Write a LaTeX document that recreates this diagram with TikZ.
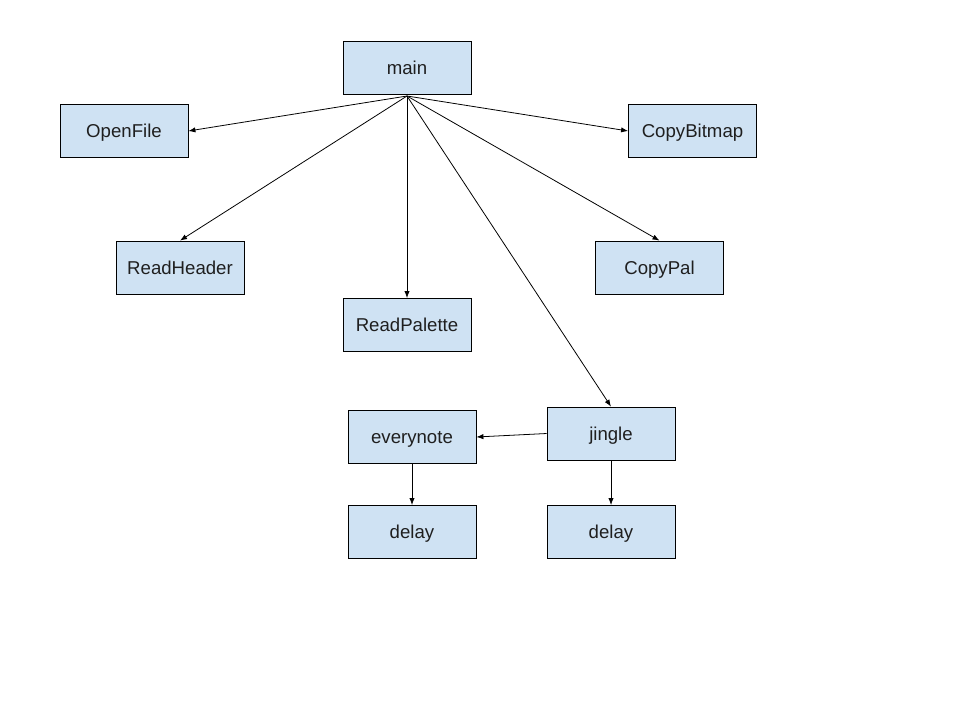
\documentclass[tikz,border=0pt]{standalone}
\usepackage{fontspec}
\setmainfont{Liberation Sans}
\usetikzlibrary{arrows.meta}
\definecolor{boxfill}{HTML}{CFE2F3}
\definecolor{txt}{HTML}{1F1F1F}
\begin{document}
\begin{tikzpicture}[x=0.02cm,y=-0.02cm,
  box/.style={draw=black,line width=0.45pt,fill=boxfill,minimum width=2.56cm,minimum height=1.06cm,inner sep=0pt,text=txt,text height=1.6ex,text depth=0.1ex,font=\fontsize{10.6}{12}\selectfont},
  conn/.style={draw=black,line width=0.45pt,-{Latex[length=4pt,width=3pt]}}]
\useasboundingbox[fill=white] (0,0) rectangle (960,720);
\node[box] (main) at (407,67.5) {main};
\node[box] (OpenFile) at (124,131) {OpenFile};
\node[box] (CopyBitmap) at (692.5,131) {CopyBitmap};
\node[box] (ReadHeader) at (180,267.5) {ReadHeader};
\node[box] (CopyPal) at (659.5,267.5) {CopyPal};
\node[box] (ReadPalette) at (407,325) {ReadPalette};
\node[box] (everynote) at (412,437) {everynote};
\node[box] (jingle) at (611,433.5) {jingle};
\node[box] (delayA) at (412,532) {delay};
\node[box] (delayB) at (611,532) {delay};
\coordinate (mo) at (407,96);
\draw[conn] (mo) -- (OpenFile.east);
\draw[conn] (mo) -- (CopyBitmap.west);
\draw[conn] (mo) -- (ReadHeader.north);
\draw[conn] (mo) -- (ReadPalette.north);
\draw[conn] (mo) -- (CopyPal.north);
\draw[conn] (mo) -- (jingle.north);
\draw[conn] (jingle.west) -- (everynote.east);
\draw[conn] (everynote.south) -- (delayA.north);
\draw[conn] (jingle.south) -- (delayB.north);
\end{tikzpicture}
\end{document}
